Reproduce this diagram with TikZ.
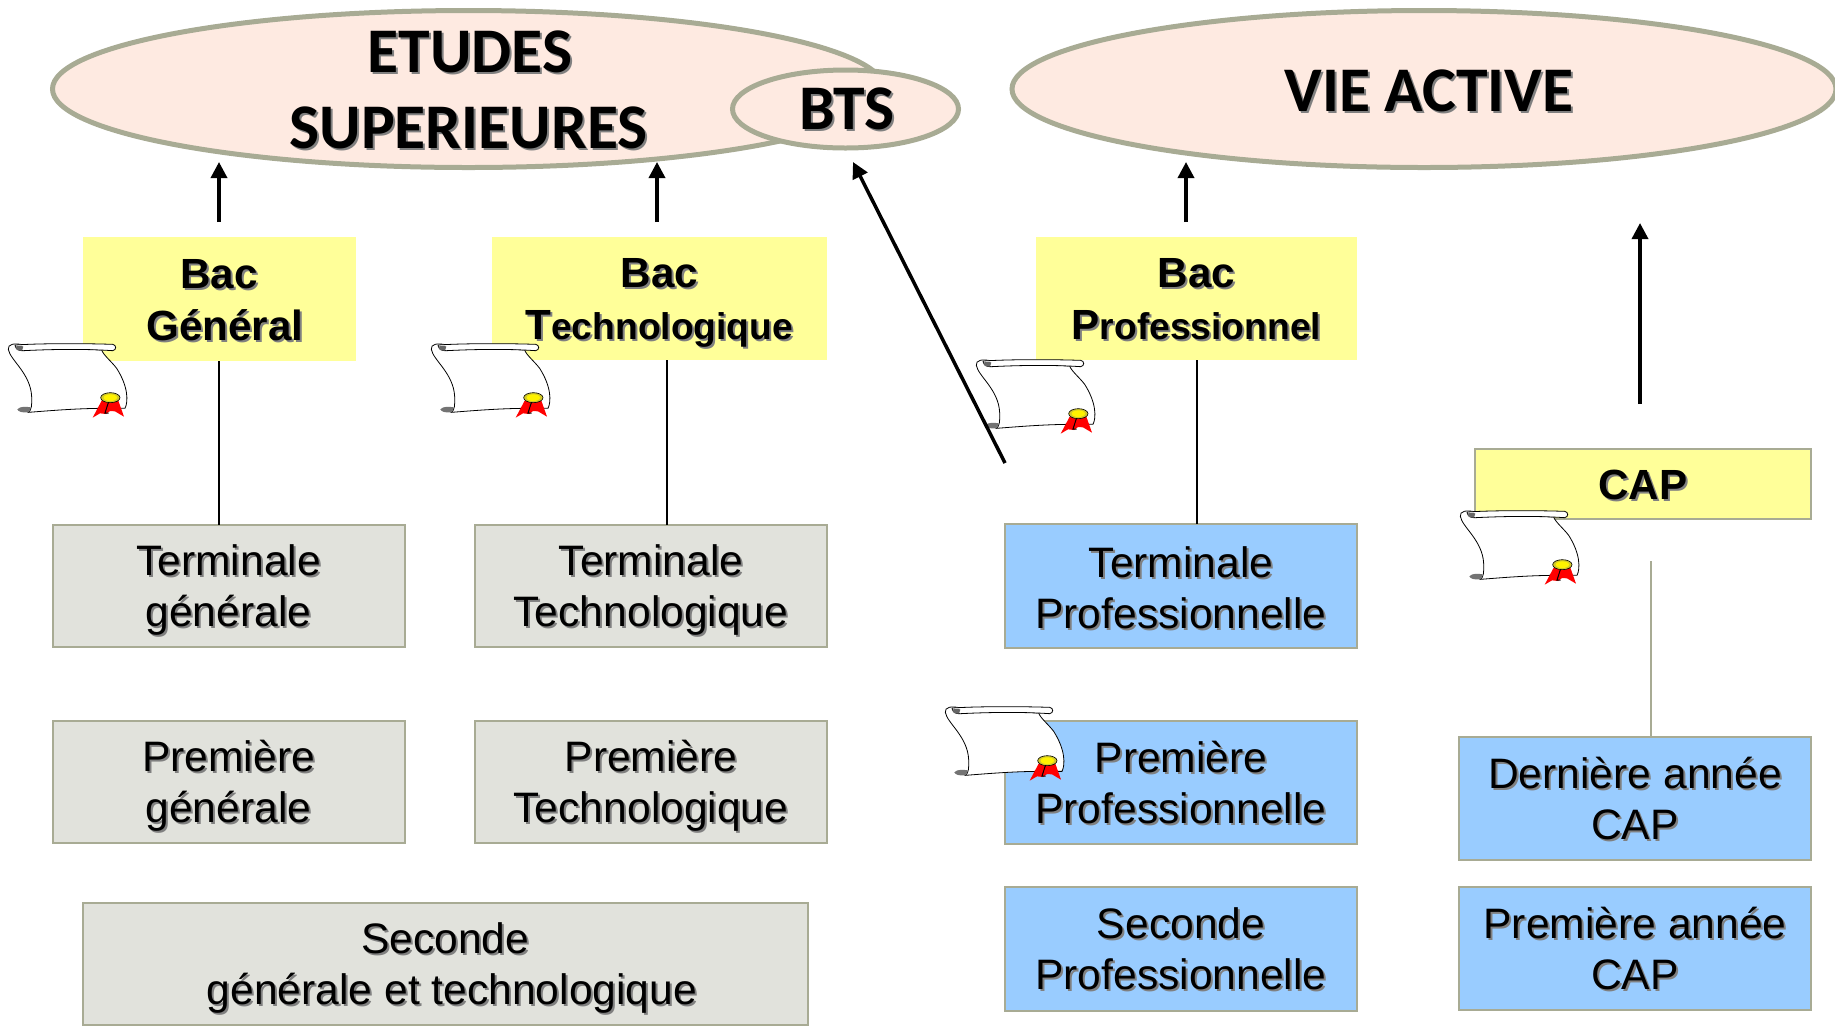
\documentclass[tikz,border=0pt]{standalone}
\usepackage{fontspec}
\setmainfont{Liberation Sans}
\newfontfamily\headfont{Carlito}
\usetikzlibrary{shapes.geometric,arrows.meta}
\definecolor{edgeol}{HTML}{A8AB94}
\definecolor{pinkfill}{HTML}{FEEAE1}
\definecolor{greyfill}{HTML}{E1E2DC}
\definecolor{bluefill}{HTML}{99CCFF}
\definecolor{yellowfill}{HTML}{FFFF99}
\definecolor{shcol}{HTML}{808080}
\newcommand\shd[1]{\leavevmode\rlap{\kern1pt\raisebox{-1pt}{\color{shcol}#1}}#1}
\newcommand\tline[1]{\rule[-4.25pt]{0pt}{25.5pt}\shd{#1}}
\newcommand\uline[1]{\rule[-5.1pt]{0pt}{25.5pt}\shd{#1}}
\newcommand\bline[1]{\rule[-5.4pt]{0pt}{26pt}\shd{#1}}
\newcommand\eline[3]{\makebox[0pt]{\raisebox{#2}[0pt][0pt]{\hspace*{#1}\shd{#3}}}}
\newcommand\smallb{\fontsize{18.6}{26}\selectfont}
\tikzset{
  bigell/.style={ellipse,draw=edgeol,fill=pinkfill,line width=2.5pt,inner sep=0pt,outer sep=0pt,font=\headfont\bfseries\fontsize{31.8}{37}\selectfont},
  textbox/.style={rectangle,draw=edgeol,line width=1pt,inner sep=0pt,outer sep=0pt,align=center,font=\fontsize{21.3}{25.5}\selectfont},
  greybox/.style={textbox,fill=greyfill},
  bluebox/.style={textbox,fill=bluefill},
  bacbox/.style={rectangle,fill=yellowfill,inner sep=0pt,outer sep=0pt,align=center,font=\bfseries\fontsize{21.1}{26}\selectfont},
  capbox/.style={bacbox,draw=edgeol,line width=1pt},
  arrowline/.style={line width=1.75pt,-{Triangle[width=8pt,length=8pt]}},
  plainline/.style={line width=1pt,black},
  scrollpic/.pic={
    \begin{scope}[scale=1/3,line width=0.4pt]
      \draw[fill=white] (70,45) .. controls (45,38) and (22,42) .. (25,58)
        .. controls (30,90) and (92,130) .. (95,200)
        .. controls (96,225) and (95,240) .. (85,247)
        .. controls (150,242) and (220,236) .. (300,235)
        -- (375,235) .. controls (385,215) and (385,170) .. (350,115)
        .. controls (335,95) and (310,75) .. (305,60) -- cycle;
      \draw[fill=white] (45,45) .. controls (120,40) and (250,40) .. (338,43)
        .. controls (350,45) and (350,60) .. (338,62)
        .. controls (250,56) and (150,58) .. (70,62)
        .. controls (55,64) and (45,55) .. (45,45) -- cycle;
      \fill[black!60] (45,52) .. controls (50,46) and (65,46) .. (70,50) -- (66,62) .. controls (55,63) and (48,60) .. (45,52) -- cycle;
      \fill[black!55] (52,238) .. controls (60,228) and (80,230) .. (92,232) .. controls (92,240) and (90,247) .. (82,247) .. controls (65,248) and (55,245) .. (52,238) -- cycle;
      \fill[red] (278,263) -- (305,212) -- (355,212) -- (372,260) -- (345,244) -- (330,243) -- (318,252) -- (300,250) -- cycle;
      \draw[line width=0.5pt] (325,218) -- (315,249) -- (326,249);
      \draw[fill=yellow!80!black,line width=0.3pt] (331,203) ellipse [x radius=29,y radius=15];
      \fill[yellow] (331,203) ellipse [x radius=20,y radius=10];
    \end{scope}
  }
}
\begin{document}
\begin{tikzpicture}[x=0.5pt,y=-0.5pt]
\useasboundingbox (0,0) rectangle (1835,1030);
% ellipses
\node[bigell,minimum width=416pt,minimum height=78.5pt] (etudes) at (468.5,89) {\eline{1.5pt}{8.2pt}{ETUDES}\eline{0pt}{-29.9pt}{SUPERIEURES}};
\node[bigell,minimum width=113pt,minimum height=39pt] (bts) at (845.5,109) {\eline{1.5pt}{-10.2pt}{BTS}};
\node[bigell,minimum width=412pt,minimum height=78.5pt] (vie) at (1424,89) {\eline{5pt}{-11pt}{VIE ACTIVE}};
% yellow boxes
\node[bacbox,minimum width=136.5pt,minimum height=62pt] (bg) at (219,299) {\bline{Bac}\\\bline{\hspace*{6pt}Général}};
\node[bacbox,minimum width=167.75pt,minimum height=61.5pt] (bt) at (659.25,298.5) {\bline{Bac}\\\bline{T{\smallb echnologique}}};
\node[bacbox,minimum width=160.5pt,minimum height=61.5pt] (bp) at (1196.5,298.5) {\bline{Bac}\\\bline{P{\smallb rofessionnel}}};
\node[capbox,minimum width=168pt,minimum height=35pt] (cap) at (1642.75,484) {\bline{CAP}};
% grey boxes
\node[greybox,minimum width=176pt,minimum height=61pt] (tg) at (228.5,585.5) {\tline{Terminale}\\\tline{générale}};
\node[greybox,minimum width=176pt,minimum height=61pt] (pg) at (228.5,781.5) {\tline{Première}\\\tline{générale}};
\node[greybox,minimum width=176pt,minimum height=61pt] (tt) at (651,585.5) {\tline{Terminale}\\\tline{Technologique}};
\node[greybox,minimum width=176pt,minimum height=61pt] (ptech) at (651,781.5) {\tline{Première}\\\tline{Technologique}};
\node[greybox,minimum width=362.75pt,minimum height=61pt] (sg) at (445.25,963.5) {\tline{Seconde}\\\tline{\hspace*{6.7pt}générale et technologique}};
% blue boxes
\node[bluebox,minimum width=176pt,minimum height=62pt] (tpro) at (1181,586) {\tline{Terminale}\\\tline{Professionnelle}};
\node[bluebox,minimum width=176pt,minimum height=61.5pt] (ppro) at (1181,782.5) {\uline{Première}\\\uline{Professionnelle}};
\node[bluebox,minimum width=176pt,minimum height=62pt] (spro) at (1181,949) {\uline{Seconde}\\\uline{Professionnelle}};
\node[bluebox,minimum width=176pt,minimum height=61.5pt] (dcap) at (1635,798.5) {\uline{Dernière année}\\\uline{CAP}};
\node[bluebox,minimum width=176pt,minimum height=61.5pt] (pcap) at (1635,948.5) {\uline{Première année}\\\uline{CAP}};
% helper coordinates
\coordinate (tipa) at (219,162);
\coordinate (tipb) at (657,162);
\coordinate (tipc) at (1186,162);
\coordinate (tipd) at (1640,223);
\coordinate (taild) at (1640,404);
\coordinate (tipbts) at (853,162);
\coordinate (tailbts) at (1005,463);
\coordinate (xb) at (667,0);
\coordinate (xp) at (1197,0);
\coordinate (capline) at (1651,561);
% connectors
\draw[plainline] (bg.south) -- (tg.north -| bg.south);
\draw[plainline] (bt.south -| xb) -- (tt.north -| xb);
\draw[plainline] (bp.south -| xp) -- (tpro.north -| xp);
\draw[line width=1pt,edgeol] (capline) -- (dcap.north -| capline);
\draw[arrowline,shorten <=7.5pt] (bg.north) -- (tipa);
\draw[arrowline,shorten <=7.5pt] (bt.north -| tipb) -- (tipb);
\draw[arrowline,shorten <=7.5pt] (bp.north -| tipc) -- (tipc);
% scrolls
\pic at (0,330) {scrollpic};
\pic at (423,330) {scrollpic};
\pic at (968,346) {scrollpic};
\pic at (1452,497) {scrollpic};
\pic at (937,693) {scrollpic};
% long arrows
\draw[arrowline] (taild) -- (tipd);
\draw[arrowline] (tailbts) -- (tipbts);
\end{tikzpicture}
\end{document}
